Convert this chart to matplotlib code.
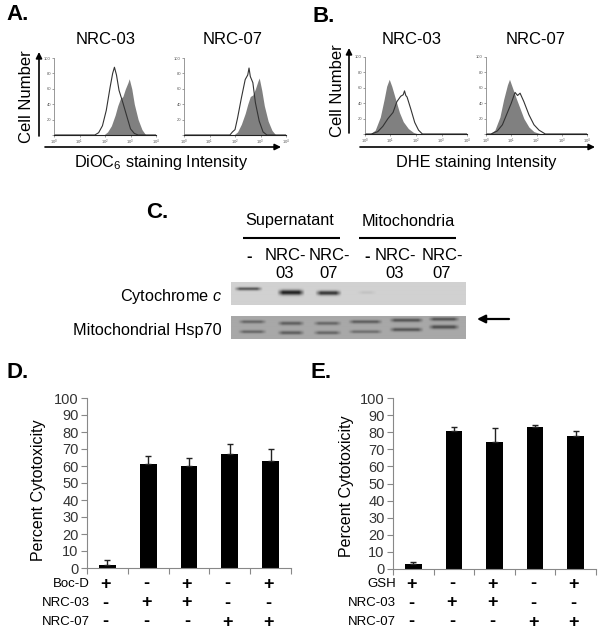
import matplotlib
matplotlib.use("Agg")
import matplotlib.pyplot as plt
import numpy as np

plt.rcParams['font.family'] = ['Liberation Sans', 'DejaVu Sans']
plt.rcParams['mathtext.fontset'] = 'custom'
plt.rcParams['mathtext.rm'] = 'Liberation Sans'
plt.rcParams['mathtext.it'] = 'Liberation Sans:italic'

W = 600; H = 636

# histograms, x is log10 of intensity
a03_fill_x = [0, 1.95, 2.1, 2.25, 2.4, 2.5, 2.6, 2.7, 2.8, 2.9, 2.95, 3.05, 3.15, 3.3, 3.45, 3.6, 4]
a03_fill_y = [0, 0, 4, 12, 26, 38, 47, 50, 60, 68, 73, 60, 40, 20, 7, 0, 0]
a03_line_x = [0, 1.6, 1.75, 1.9, 2.05, 2.2, 2.3, 2.37, 2.45, 2.55, 2.7, 2.85, 3.0, 3.15, 3.3, 4]
a03_line_y = [0, 0, 3, 12, 32, 62, 80, 88, 78, 58, 42, 25, 8, 2, 0, 0]

a07_fill_x = [0, 1.95, 2.1, 2.25, 2.4, 2.5, 2.6, 2.7, 2.8, 2.9, 2.95, 3.05, 3.15, 3.3, 3.45, 3.6, 4]
a07_fill_y = [0, 0, 4, 14, 28, 40, 50, 52, 60, 70, 74, 58, 38, 18, 6, 0, 0]
a07_line_x = [0, 1.8, 1.9, 2.0, 2.1, 2.25, 2.4, 2.5, 2.55, 2.6, 2.7, 2.8, 2.95, 3.1, 3.25, 4]
a07_line_y = [0, 0, 4, 7, 22, 48, 72, 78, 87, 76, 68, 42, 18, 4, 0, 0]

b03_fill_x = [0, 0.2, 0.4, 0.6, 0.75, 0.85, 0.95, 1.05, 1.2, 1.35, 1.5, 1.7, 1.9, 2.1, 4]
b03_fill_y = [0, 0, 5, 22, 45, 62, 71, 62, 45, 28, 16, 7, 2, 0, 0]
b03_line_x = [0, 0.25, 0.5, 0.7, 0.9, 1.1, 1.25, 1.4, 1.5, 1.55, 1.6, 1.65, 1.8, 1.95, 2.1, 2.25, 4]
b03_line_y = [0, 0, 3, 10, 20, 28, 42, 49, 51, 56, 50, 48, 32, 15, 5, 0, 0]

b07_fill_x = [0, 0.15, 0.35, 0.55, 0.7, 0.85, 0.93, 1.05, 1.2, 1.35, 1.5, 1.7, 1.9, 2.2, 4]
b07_fill_y = [0, 0, 5, 22, 45, 64, 71, 60, 46, 33, 20, 9, 3, 0, 0]
b07_line_x = [0, 0.2, 0.45, 0.65, 0.85, 1.0, 1.15, 1.25, 1.35, 1.5, 1.7, 1.9, 2.1, 2.35, 4]
b07_line_y = [0, 0, 4, 12, 28, 40, 54, 50, 53, 42, 25, 12, 5, 0, 0]

hist_ticks_y = [0, 20, 40, 60, 80, 100]
hist_labels_y = ['', '20', '40', '60', '80', '100']
hist_ticks_x = [0, 1, 2, 3, 4]

# bar panels
groups = [0, 1, 2, 3, 4]
d_vals = [1.5, 61, 60, 67, 63]
d_tops = [5, 66, 65, 73, 70]
e_vals = [3, 80.5, 74, 83, 77.5]
e_tops = [4, 83, 82.5, 84.5, 80.5]
d_rows = [('Boc-D', ['+', '-', '+', '-', '+']),
          ('NRC-03', ['-', '+', '+', '-', '-']),
          ('NRC-07', ['-', '-', '-', '+', '+'])]
e_rows = [('GSH', ['+', '-', '+', '-', '+']),
          ('NRC-03', ['-', '+', '+', '-', '-']),
          ('NRC-07', ['-', '-', '-', '+', '+'])]

# blot bands: x start, x end, y (pixels inside the strip), thickness, darkness
cyto_bands = [(3, 32, 7.5, 1.5, 0.6), (46, 74, 11, 2.4, 0.85), (84, 111, 11.5, 2.1, 0.75),
              (126, 146, 11, 1.5, 0.07)]
hsp_bands = [(7, 36, 6.5, 1.5, 0.4), (7, 36, 16, 1.5, 0.4),
             (46, 74, 8, 1.7, 0.45), (46, 74, 17, 1.7, 0.45),
             (82, 111, 8, 1.6, 0.4), (82, 111, 17, 1.6, 0.4),
             (117, 152, 6.5, 1.6, 0.45), (117, 152, 16, 1.5, 0.35),
             (158, 193, 5, 1.7, 0.5), (158, 193, 14, 1.7, 0.5),
             (197, 229, 4, 1.6, 0.5), (197, 229, 11.5, 1.8, 0.55)]

fig = plt.figure(figsize=(W / 100, H / 100), dpi=100)


def px_axes(x0, x1, y0, y1):
    return fig.add_axes([x0 / W, 1 - y1 / H, (x1 - x0) / W, (y1 - y0) / H])


page = fig.add_axes([0, 0, 1, 1])
page.set_xlim(0, W)
page.set_ylim(H, 0)
page.axis('off')


def hist_panel(x0, x1, y0, y1, fx, fy, lx, ly):
    ax = px_axes(x0, x1, y0, y1)
    ax.fill_between(fx, fy, color='#808080', lw=0)
    ax.plot(lx, ly, color='#333333', lw=0.8)
    ax.set_xlim(0, 4)
    ax.set_ylim(0, 100)
    ax.set_yticks(hist_ticks_y)
    ax.set_yticklabels(hist_labels_y)
    ax.set_xticks(hist_ticks_x)
    ax.set_xticklabels(['$10^{%d}$' % t for t in hist_ticks_x])
    ax.tick_params(labelsize=3, length=1.2, width=0.4, pad=1, colors='#555555')
    ax.spines['top'].set_visible(False)
    ax.spines['right'].set_visible(False)
    ax.spines['left'].set_color('#888888')
    ax.spines['left'].set_linewidth(0.6)
    ax.spines['bottom'].set_color('#222222')
    ax.spines['bottom'].set_linewidth(0.8)
    ax.patch.set_alpha(0)


hist_panel(54, 156, 58, 135, a03_fill_x, a03_fill_y, a03_line_x, a03_line_y)
hist_panel(184, 286, 58, 135, a07_fill_x, a07_fill_y, a07_line_x, a07_line_y)
hist_panel(365, 467, 57, 134, b03_fill_x, b03_fill_y, b03_line_x, b03_line_y)
hist_panel(486, 587, 57, 134, b07_fill_x, b07_fill_y, b07_line_x, b07_line_y)


def arrow(x0, y0, x1, y1, lw=1.2, ms=9):
    page.annotate('', xy=(x1, y1), xytext=(x0, y0),
                  arrowprops=dict(arrowstyle='-|>', color='black', lw=lw, mutation_scale=ms,
                                  shrinkA=0, shrinkB=0))


arrow(39, 136, 39, 52)
arrow(45, 147, 281, 147)
arrow(349, 133, 349, 48)
arrow(360, 147, 595, 147)

page.text(6, 14, 'A.', fontsize=16, fontweight='bold', va='center')
page.text(312, 16, 'B.', fontsize=16, fontweight='bold', va='center')
page.text(146, 213, 'C.', fontsize=16, fontweight='bold', va='center')
page.text(7, 373, 'D.', fontsize=16, fontweight='bold', va='center')
page.text(311, 373, 'E.', fontsize=16, fontweight='bold', va='center')

for x, y, s in [(106, 39, 'NRC-03'), (233, 39, 'NRC-07'), (412, 39, 'NRC-03'), (536, 39, 'NRC-07')]:
    page.text(x, y, s, fontsize=12, ha='center', va='center')
page.text(27, 97, 'Cell Number', fontsize=12, rotation=90, ha='center', va='center')
page.text(337, 91, 'Cell Number', fontsize=12, rotation=90, ha='center', va='center')
page.text(161, 163, 'DiOC$_6$ staining Intensity', fontsize=11.7, ha='center', va='center')
page.text(476, 163, 'DHE staining Intensity', fontsize=11.7, ha='center', va='center')

# blot C
page.text(290, 221, 'Supernatant', fontsize=11.7, ha='center', va='center')
page.text(408, 221, 'Mitochondria', fontsize=11.7, ha='center', va='center')
page.plot([243, 340], [237.5, 237.5], color='black', lw=1.5, solid_capstyle='butt')
page.plot([359, 456], [237.5, 237.5], color='black', lw=1.5, solid_capstyle='butt')
for x, s in [(249, '-'), (367, '-')]:
    page.text(x, 257, s, fontsize=12, fontweight='bold', ha='center', va='center')
for x, s in [(285, 'NRC-\n03'), (329, 'NRC-\n07'), (395, 'NRC-\n03'), (442, 'NRC-\n07')]:
    page.text(x, 264, s, fontsize=12, ha='center', va='center', linespacing=1.25)
page.text(222, 297, 'Cytochrome $\\mathit{c}$', fontsize=11.7, ha='right', va='center')
page.text(222, 331, 'Mitochondrial Hsp70', fontsize=11.7, ha='right', va='center')


def blot(y0, y1, bands, base):
    ax = px_axes(231, 466, y0, y1)
    xx, yy = np.meshgrid(np.arange(235) + 0.5, np.arange(y1 - y0) + 0.5)
    img = np.full(xx.shape, base)
    for b0, b1, by, th, dark in bands:
        prof_x = np.clip((xx - b0) / 6, 0, 1) * np.clip((b1 - xx) / 6, 0, 1)
        img = img - dark * base * prof_x * np.exp(-((yy - by) / th) ** 2)
    ax.imshow(img, cmap='gray', vmin=0, vmax=1, aspect='auto', interpolation='bilinear')
    ax.axis('off')


blot(282, 305, cyto_bands, 0.82)
blot(316, 339, hsp_bands, 0.66)
arrow(509, 319, 477, 319, lw=1.6, ms=12)


def bar_panel(x0, x1, y0, y1, vals, tops, rows, ylab_x, ylab_y, lab_x, row_y):
    ax = px_axes(x0, x1, y0, y1)
    ax.bar(groups, vals, width=0.41, color='black')
    errs = [t - v for t, v in zip(tops, vals)]
    ax.errorbar(groups, vals, yerr=[[0] * 5, errs], fmt='none', ecolor='#222222',
                elinewidth=1.0, capsize=2.2, capthick=1.0)
    ax.set_xlim(-0.5, 4.5)
    ax.set_ylim(0, 100)
    ax.set_yticks(range(0, 101, 10))
    ax.set_xticks([-0.5, 0.5, 1.5, 2.5, 3.5, 4.5])
    ax.set_xticklabels([])
    ax.tick_params(axis='y', labelsize=10.5, length=4, width=0.8, color='#888888',
                   labelcolor='#333333', pad=2)
    ax.tick_params(axis='x', length=4, width=0.8, color='#888888')
    ax.spines['top'].set_visible(False)
    ax.spines['right'].set_visible(False)
    ax.spines['left'].set_color('#888888')
    ax.spines['bottom'].set_color('#888888')
    ax.patch.set_alpha(0)
    page.text(ylab_x, ylab_y, 'Percent Cytotoxicity', fontsize=11.5, rotation=90,
              ha='center', va='center')
    step = (x1 - x0) / 5
    for (name, signs), y in zip(rows, row_y):
        page.text(lab_x, y, name, fontsize=9.5, ha='right', va='center')
        for g, s in zip(groups, signs):
            page.text(x0 + step * (g + 0.5) - 2, y, s, fontsize=13, fontweight='bold',
                      ha='center', va='center')


bar_panel(87, 291, 398, 568, d_vals, d_tops, d_rows, 39, 490, 90, [584, 603, 622])
bar_panel(393, 596, 398, 569, e_vals, e_tops, e_rows, 346, 486, 396, [584, 603, 622])

fig.savefig('out.png', dpi=100)
